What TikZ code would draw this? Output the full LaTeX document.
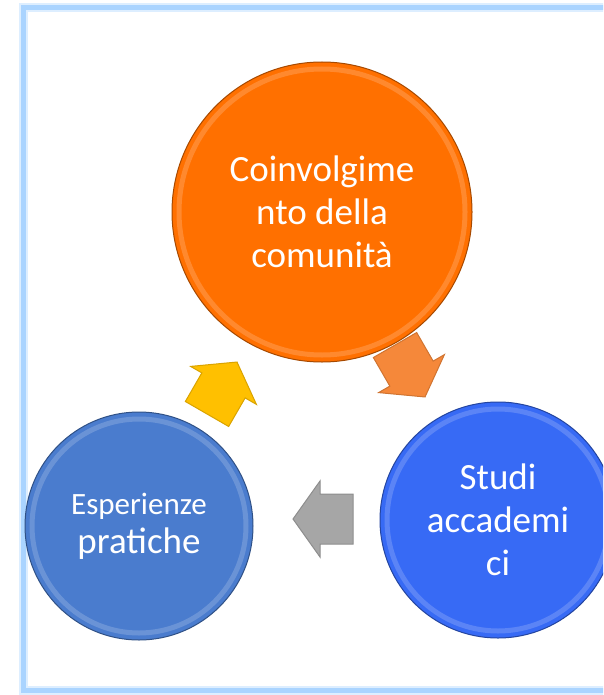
\documentclass[tikz,border=0pt]{standalone}
\usepackage{fontspec}
\setmainfont{Carlito}
\usetikzlibrary{positioning}
\definecolor{framblue}{RGB}{170,212,255}
\definecolor{comuorange}{RGB}{255,112,0}
\definecolor{studiblue}{RGB}{55,106,245}
\definecolor{esperblue}{RGB}{74,124,206}
\definecolor{arryellow}{RGB}{255,192,0}
\definecolor{arrorange}{RGB}{245,136,58}
\definecolor{arrgray}{RGB}{166,166,166}
\tikzset{
  bubble/.style={circle, inner sep=0pt, align=center, text=white, fill=#1, draw=#1!65!black, line width=1pt, font=\fontsize{37}{43}\selectfont},
  rim/.style={draw=white, opacity=0.18, line width=5pt},
  blockarrow/.style={line width=1pt, line join=miter}
}
% block arrow: x, y, angle, colour
\newcommand{\cyclearrow}[4]{
    \draw[blockarrow, fill=#4, draw=#4!85!black, shift={(#1,#2)}, rotate=#3]
        (-30,-25) -- (3,-25) -- (3,-38) -- (30,0) -- (3,38) -- (3,25) -- (-30,25) -- cycle;
}

\begin{document}
\begin{tikzpicture}[x=1pt, y=-1pt]

    \useasboundingbox (0,0) rectangle (603,695);
    \clip (0,0) rectangle (603,695);

    % cornice
    \draw[framblue!40, line width=9pt] (23,8) rectangle (650,690);
    \draw[framblue, line width=5pt] (23,8) rectangle (650,690);

    % cerchi
    \node[bubble=comuorange, minimum size=300pt] (comu) at (322,212) {Coinvolgime\\nto della\\comunità};
    \node[bubble=studiblue, minimum size=236pt] (studi) at (498,520) {Studi\\accademi\\ci};
    \node[bubble=esperblue, minimum size=228pt] (esper) at (139,526) {{\fontsize{31}{38}\selectfont Esperienze}\\[-4pt]pratiche};

    % riflesso sul bordo
    \foreach \n/\r in {comu/143, studi/111, esper/107} {
        \draw[rim] (\n.center) circle (\r pt);
    }

    % frecce del ciclo
    \cyclearrow{222}{388}{60}{arryellow}
    \cyclearrow{410}{371}{-60}{arrorange}
    \cyclearrow{323}{519}{180}{arrgray}

\end{tikzpicture}
\end{document}
